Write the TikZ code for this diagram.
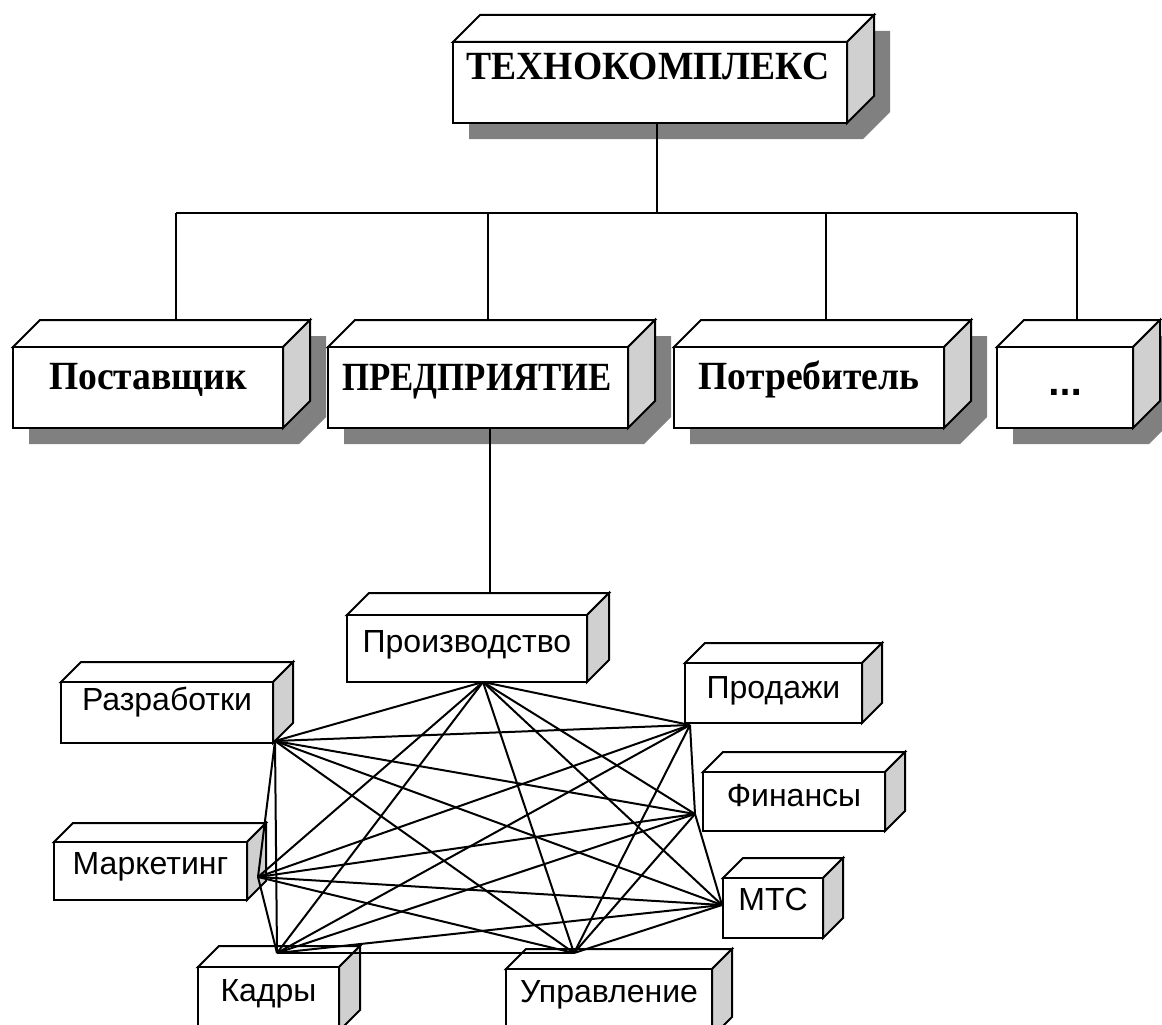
\documentclass[tikz,border=0pt]{standalone}
\usepackage{graphicx}
\usepackage{fontspec}
\setmainfont{Liberation Serif}
\newfontfamily\arialf{Liberation Sans}
\newfontfamily\dotf{Liberation Sans}[FakeBold=4]
\definecolor{shadowgray}{HTML}{808080}
\definecolor{sidegray}{HTML}{D0D0D0}
\tikzset{
  boxline/.style={line width=2pt, line join=miter, draw=black},
  frontface/.style={boxline, fill=white, rectangle, inner sep=0pt, outer sep=0pt, anchor=north west},
  bigtxt/.style={font=\fontsize{40}{46}\selectfont\bfseries, inner sep=0pt, anchor=base},
  smalltxt/.style={font=\arialf\fontsize{32}{36}\selectfont, inner sep=0pt, anchor=base},
  treeline/.style={line width=1.8pt},
  netline/.style={line width=2pt}
}
\newcommand\cubshadow[5]{%
  \fill[shadowgray, shift={(16,16)}] (#1,#4) -- (#1,#2) -- ({#1+#5},{#2-#5}) -- ({#3+#5},{#2-#5}) -- ({#3+#5},{#4-#5}) -- (#3,#4) -- cycle;}
\newcommand\cubbox[6]{%
  \draw[boxline, fill=white] (#2,#3) -- ({#2+#6},{#3-#6}) -- ({#4+#6},{#3-#6}) -- (#4,#3) -- cycle;
  \draw[boxline, fill=sidegray] (#4,#3) -- ({#4+#6},{#3-#6}) -- ({#4+#6},{#5-#6}) -- (#4,#5) -- cycle;
  \node[frontface, minimum width={(#4-#2)*1pt}, minimum height={(#5-#3)*1pt}] (#1) at (#2,#3) {};}
\begin{document}
\begin{tikzpicture}[x=1pt,y=-1pt]
\useasboundingbox (0,0) rectangle (1162,1025);
\clip (0,0) rectangle (1162,1025);
\fill[white] (0,0) rectangle (1162,1025);
% shadows
\cubshadow{453}{42}{847}{123}{27}
\cubshadow{13}{347}{283}{428}{27}
\cubshadow{328}{347}{628}{428}{27}
\cubshadow{674}{347}{944}{428}{27}
\cubshadow{997}{347}{1133}{428}{27}
% tree
\coordinate (j0) at (657,213);
\coordinate (j1) at (176,213);
\coordinate (j2) at (488,213);
\coordinate (j3) at (826,213);
\coordinate (j4) at (1077,213);
\coordinate (e1) at (176,320);
\coordinate (e2) at (488,320);
\coordinate (e3) at (826,320);
\coordinate (e4) at (1077,320);
\coordinate (t0) at (657,123);
\coordinate (pd) at (490,428);
\coordinate (pr) at (490,593);
\draw[treeline] (t0) -- (j0);
\draw[treeline] (j1) -- (j4);
\draw[treeline] (j1) -- (e1);
\draw[treeline] (j2) -- (e2);
\draw[treeline] (j3) -- (e3);
\draw[treeline] (j4) -- (e4);
\draw[treeline] (pd) -- (pr);
% big boxes
\cubbox{tech}{453}{42}{847}{123}{27}
\cubbox{post}{13}{347}{283}{428}{27}
\cubbox{pred}{328}{347}{628}{428}{27}
\cubbox{potr}{674}{347}{944}{428}{27}
\cubbox{etc}{997}{347}{1133}{428}{27}
\node[bigtxt] (ttech) at (648,80) {\scalebox{0.94}[1]{ТЕХНОКОМПЛЕКС}};
\node[bigtxt] (tpost) at (148,389) {\scalebox{0.94}[1]{Поставщик}};
\node[bigtxt] (tpred) at (477,390) {\scalebox{0.87}[1]{ПРЕДПРИЯТИЕ}};
\node[bigtxt] (tpotr) at (809,389) {\scalebox{0.94}[1]{Потребитель}};
\node[bigtxt, font=\dotf\fontsize{40}{46}\selectfont] (tetc) at (1065,394) {...};
% small boxes
\cubbox{proiz}{347}{615}{587}{682}{22}
\cubbox{razr}{61}{682}{273}{743}{20}
\cubbox{prod}{685}{663}{862}{723}{20}
\cubbox{fin}{703}{772}{885}{831}{20}
\cubbox{mts}{723}{878}{823}{938}{20}
\cubbox{mark}{54}{842}{247}{900}{19}
\cubbox{kadr}{198}{967}{339}{1031}{21}
\cubbox{upr}{506}{969}{712}{1037}{20}
\node[smalltxt] (tproiz) at (467,652) {Производство};
\node[smalltxt] (trazr) at (167,710) {Разработки};
\node[smalltxt] (tprod) at (773.5,698) {Продажи};
\node[smalltxt] (tfin) at (794,806) {Финансы};
\node[smalltxt] (tmts) at (773,910) {МТС};
\node[smalltxt] (tmark) at (150.5,874) {Маркетинг};
\node[smalltxt] (tkadr) at (268.5,1001) {Кадры};
\node[smalltxt] (tupr) at (609,1002) {Управление};
% network points
\coordinate (n1) at (483,682);
\coordinate (n2) at (275,741);
\coordinate (n3) at (690,725);
\coordinate (n4) at (695,814);
\coordinate (n5) at (722,905);
\coordinate (n6) at (258,877);
\coordinate (n7) at (277,953);
\coordinate (n8) at (574,953);
\foreach \a/\b in {1/2,1/3,1/4,1/5,1/6,1/7,1/8,
                   2/3,2/4,2/5,2/6,2/7,2/8,
                   3/4,3/6,3/7,3/8,
                   4/5,4/6,4/7,4/8,
                   5/6,5/7,5/8,
                   6/7,6/8,
                   7/8}
  \draw[netline] (n\a) -- (n\b);
\end{tikzpicture}
\end{document}
